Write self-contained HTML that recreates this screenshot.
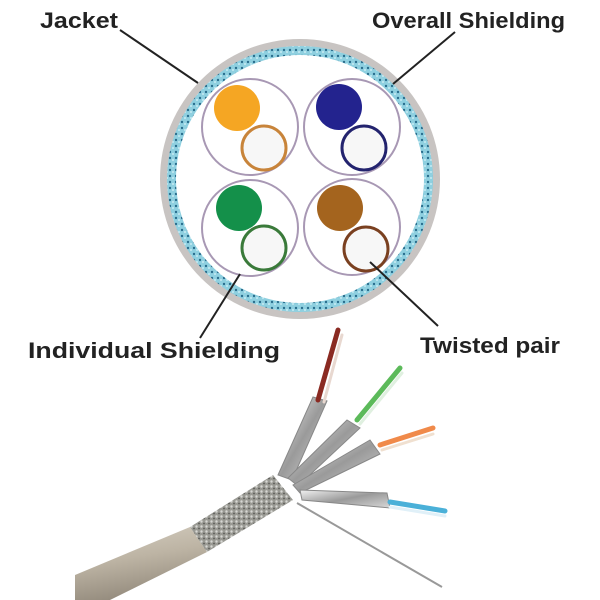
<!DOCTYPE html>
<html><head><style>body{margin:0;background:#fff}svg{display:block}</style></head><body>
<svg width="600" height="600" viewBox="0 0 600 600" xmlns="http://www.w3.org/2000/svg">
<defs>
<pattern id="bl" width="6" height="6" patternUnits="userSpaceOnUse"><rect width="6" height="6" fill="#8fd0e0"/><circle cx="2" cy="2" r="1.2" fill="#2a6f8e"/><circle cx="5" cy="4" r="0.9" fill="#d8f2f8"/></pattern>
<pattern id="br" width="5" height="5" patternUnits="userSpaceOnUse"><rect width="5" height="5" fill="#9a9a94"/><circle cx="1.5" cy="1.5" r="1.2" fill="#d8d8d4"/><circle cx="4" cy="3.5" r="0.9" fill="#5a5a56"/></pattern>
<linearGradient id="tube" x1="0" y1="0" x2="0.3" y2="1"><stop offset="0" stop-color="#d6cfc2"/><stop offset="0.5" stop-color="#bdb4a4"/><stop offset="1" stop-color="#958c7e"/></linearGradient>
<linearGradient id="foil" x1="0" y1="0" x2="1" y2="1"><stop offset="0" stop-color="#f2f2f2"/><stop offset="0.5" stop-color="#9a9a9a"/><stop offset="1" stop-color="#d8d8d8"/></linearGradient>
</defs>
<circle cx="300" cy="179" r="140" fill="#c8c4c2"/>
<circle cx="300" cy="179" r="133" fill="url(#bl)"/>
<circle cx="300" cy="179" r="124" fill="#fff"/>
<g fill="#fff" stroke="#a898b4" stroke-width="2">
<circle cx="250" cy="127" r="48"/><circle cx="352" cy="127" r="48"/>
<circle cx="250" cy="228" r="48"/><circle cx="352" cy="227" r="48"/>
</g>
<circle cx="237" cy="108" r="23" fill="#f5a623"/><circle cx="264" cy="148" r="22" fill="#f7f7f7" stroke="#c8843a" stroke-width="3"/>
<circle cx="339" cy="107" r="23" fill="#23238e"/><circle cx="364" cy="148" r="22" fill="#f7f7f7" stroke="#23236e" stroke-width="3"/>
<circle cx="239" cy="208" r="23" fill="#14904a"/><circle cx="264" cy="248" r="22" fill="#f7f7f7" stroke="#3a7a3a" stroke-width="3"/>
<circle cx="340" cy="208" r="23" fill="#a4641e"/><circle cx="366" cy="249" r="22" fill="#f7f7f7" stroke="#7a4020" stroke-width="3"/>
<g stroke="#222" stroke-width="2">
<line x1="120" y1="30" x2="198" y2="83"/>
<line x1="455" y1="32" x2="393" y2="84"/>
<line x1="200" y1="338" x2="240" y2="274"/>
<line x1="438" y1="326" x2="370" y2="262"/>
</g>
<g font-family="Liberation Sans, sans-serif" font-weight="bold" font-size="22" fill="#222">
<text x="40" y="28" textLength="78" lengthAdjust="spacingAndGlyphs">Jacket</text>
<text x="372" y="28" textLength="193" lengthAdjust="spacingAndGlyphs">Overall Shielding</text>
<text x="28" y="358" textLength="252" lengthAdjust="spacingAndGlyphs">Individual Shielding</text>
<text x="420" y="353" textLength="140" lengthAdjust="spacingAndGlyphs">Twisted pair</text>
</g>
<polygon points="75,575 190,527 207,552 110,600 75,600" fill="url(#tube)"/>
<polygon points="190,527 273,475 293,500 207,552" fill="url(#br)"/>
<g fill="url(#foil)" stroke="#888" stroke-width="1">
<polygon points="278,475 313,397 327,401 292,480"/>
<polygon points="288,478 347,420 360,428 298,486"/>
<polygon points="293,485 370,440 380,454 300,493"/>
<polygon points="300,490 387,493 390,508 302,500"/>
</g>
<g stroke-width="5" fill="none" stroke-linecap="round">
<path d="M318,400 L338,330" stroke="#8a2a22"/><path d="M324,402 L342,335" stroke="#e8d8d0" stroke-width="3"/>
<path d="M357,420 L400,368" stroke="#5cba5a"/><path d="M360,424 L402,373" stroke="#e0f0e0" stroke-width="3"/>
<path d="M380,445 L433,428" stroke="#f08a4a"/><path d="M382,450 L433,434" stroke="#f0e0d0" stroke-width="3"/>
<path d="M390,502 L445,511" stroke="#4ab0d8"/><path d="M390,507 L445,516" stroke="#e0f0f8" stroke-width="3"/>
</g>
<line x1="297" y1="503" x2="442" y2="587" stroke="#999" stroke-width="2"/>
</svg>
</body></html>
